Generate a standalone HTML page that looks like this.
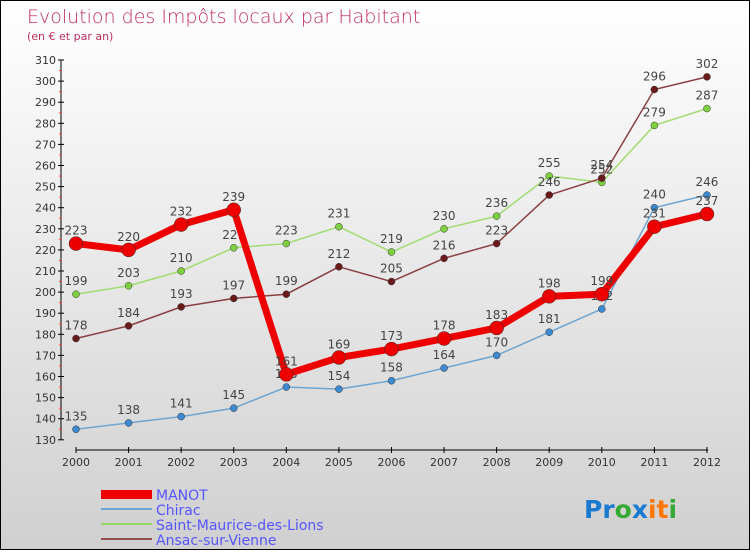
<!DOCTYPE html>
<html><head><meta charset="utf-8"><style>
body{margin:0}
#c{width:748px;height:548px;border:1px solid #000;background:linear-gradient(#fff,#d0d0d0);position:relative;font-family:"DejaVu Sans","Liberation Sans",sans-serif}
text{font-family:"DejaVu Sans","Liberation Sans",sans-serif}
</style></head><body>
<div id="c">
<svg id="s" width="748" height="548">
<text x="26" y="22" font-size="19" fill="#c0305a" style="font-weight:200">Evolution des Impôts locaux par Habitant</text>
<text x="26" y="39" font-size="11" fill="#c0305a">(en € et par an)</text>
<g id="axes"></g><g id="series"></g>
<g>
<rect x="100" y="489" width="51" height="9" fill="#e00"/>
<text x="155" y="499" font-size="14" fill="#55f">MANOT</text>
<rect x="100" y="507" width="51" height="2" fill="#6ea4d0"/>
<text x="155" y="514" font-size="14" fill="#55f">Chirac</text>
<rect x="100" y="522" width="51" height="2" fill="#90d860"/>
<text x="155" y="529" font-size="14" fill="#55f">Saint-Maurice-des-Lions</text>
<rect x="100" y="537" width="51" height="2" fill="#905050"/>
<text x="155" y="544" font-size="14" fill="#55f">Ansac-sur-Vienne</text>
</g>
<text x="583" y="517" font-size="25" font-weight="bold"><tspan fill="#1a7ad0">Pr</tspan><tspan fill="#3a3">o</tspan><tspan fill="#1a7ad0">x</tspan><tspan fill="#f70">it</tspan><tspan fill="#3a3">i</tspan></text>
</svg></div>
<script>
const years=[2000,2001,2002,2003,2004,2005,2006,2007,2008,2009,2010,2011,2012];
const yTicks=[130,140,150,160,170,180,190,200,210,220,230,240,250,260,270,280,290,300,310];
const manot=[223,220,232,239,161,169,173,178,183,198,199,231,237];
const chirac=[135,138,141,145,155,154,158,164,170,181,192,240,246];
const smdl=[199,203,210,221,223,231,219,230,236,255,252,279,287];
const ansac=[178,184,193,197,199,212,205,216,223,246,254,296,302];
const NS="http://www.w3.org/2000/svg";
function X(i){return 75+i*52.58;}
function Y(v){return 59+(310-v)*2.11;}
function mk(t,a,p){const e=document.createElementNS(NS,t);for(const k in a)e.setAttribute(k,a[k]);if(p)p.appendChild(e);return e;}
const ax=document.getElementById('axes');
mk('line',{x1:60,y1:59,x2:60,y2:439,stroke:'#000'},ax);
mk('line',{x1:75,y1:449,x2:707,y2:449,stroke:'#000'},ax);
yTicks.forEach(v=>{
 mk('line',{x1:57,y1:Y(v),x2:63,y2:Y(v),stroke:'#000'},ax);
 const t=mk('text',{x:55,y:Y(v)+4,'font-size':11,'text-anchor':'end',fill:'#333'},ax);
 
 
 t.textContent=v;
 if(v<310) mk('line',{x1:58,y1:Y(v+5),x2:61,y2:Y(v+5),stroke:'#f44'},ax);
});
years.forEach((y,i)=>{
 mk('line',{x1:X(i),y1:446,x2:X(i),y2:452,stroke:'#000'},ax);
 const t=mk('text',{x:X(i),y:465,'font-size':11,'text-anchor':'middle',fill:'#333'},ax);
 
 
 t.textContent=y;
});
const sg=document.getElementById('series');
function draw(d,col,dot,w,r,name){
 const g=mk('g',{},sg);
 
 
 mk('polyline',{points:d.map((v,i)=>X(i)+','+Y(v)).join(' '),fill:'none',stroke:col,'stroke-width':w},g);
 d.forEach((v,i)=>{
  const c=mk('circle',{cx:X(i),cy:Y(v),r:r,fill:dot,stroke:'#333','stroke-width':0.5},g);
  
  
  const t=mk('text',{x:X(i),y:Y(v)-9,'font-size':12,'text-anchor':'middle',fill:'#444'},g);
  
  
  t.textContent=v;
 });
}
draw(chirac,'#6ea4d0','#3d8ad0',1.5,3.5,'chirac');
draw(smdl,'#a0dc70','#7fd040',1.5,3.5,'saint-maurice');
draw(ansac,'#884040','#6a1a1a',1.5,3.5,'ansac');
draw(manot,'#e00','#e00',7,7,'manot');
</script>
</body></html>
